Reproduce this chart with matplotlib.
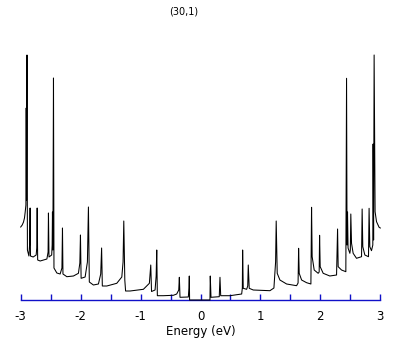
import matplotlib
matplotlib.use("Agg")
import matplotlib.pyplot as plt
from matplotlib.ticker import MultipleLocator

plt.rcParams['axes.unicode_minus'] = False
plt.rcParams['font.family'] = ['DejaVu Sans']

title = "(30,1)"
xlabel = "Energy (eV)"
xticks = [-3, -2, -1, 0, 1, 2, 3]
xtick_labels = ["-3", "-2", "-1", "0", "1", "2", "3"]

# density of states, negative-energy half
energy_neg = [-3.000, -2.975, -2.953, -2.937, -2.925, -2.913, -2.908, -2.903, -2.895, -2.888,
              -2.863, -2.852, -2.843, -2.837, -2.792, -2.742, -2.732, -2.725, -2.717, -2.675,
              -2.563, -2.543, -2.537, -2.528, -2.483, -2.475, -2.470, -2.463, -2.453, -2.445,
              -2.397, -2.342, -2.312, -2.303, -2.295, -2.230, -2.120, -2.037, -2.013, -2.003,
              -1.992, -1.925, -1.887, -1.870, -1.855, -1.787, -1.703, -1.665, -1.650, -1.638,
              -1.563, -1.397, -1.313, -1.292, -1.280, -1.263, -1.250, -1.175, -0.953, -0.853,
              -0.830, -0.817, -0.758, -0.740, -0.730, -0.720, -0.620, -0.453, -0.397, -0.363,
              -0.353, -0.342, -0.203, -0.192, -0.187, -0.182]
dos_neg = [0.73, 0.75, 0.78, 0.82, 0.88, 0.95, 1.92, 1.00, 2.45, 0.50,
           0.44, 0.55, 0.92, 0.44, 0.43, 0.45, 0.52, 0.92, 0.40, 0.39,
           0.41, 0.48, 0.87, 0.43, 0.45, 0.55, 0.88, 0.50, 2.22, 0.32,
           0.27, 0.26, 0.32, 0.72, 0.26, 0.233, 0.24, 0.267, 0.37, 0.65,
           0.217, 0.23, 0.38, 0.93, 0.18, 0.15, 0.16, 0.26, 0.52, 0.14,
           0.14, 0.167, 0.23, 0.38, 0.79, 0.20, 0.09, 0.09, 0.107, 0.167,
           0.35, 0.085, 0.10, 0.24, 0.50, 0.043, 0.043, 0.047, 0.06, 0.10,
           0.227, 0.027, 0.03, 0.12, 0.24, 0.0]

# density of states, positive-energy half
energy_pos = [0.158, 0.163, 0.175, 0.313, 0.325, 0.337, 0.492, 0.687, 0.698, 0.703,
              0.713, 0.770, 0.788, 0.797, 0.813, 0.880, 1.158, 1.225, 1.253, 1.263,
              1.280, 1.325, 1.437, 1.603, 1.628, 1.637, 1.647, 1.687, 1.770, 1.842,
              1.853, 1.863, 1.897, 1.963, 1.980, 1.987, 1.997, 2.047, 2.158, 2.270,
              2.287, 2.297, 2.353, 2.425, 2.437, 2.445, 2.453, 2.462, 2.492, 2.500,
              2.508, 2.520, 2.547, 2.603, 2.687, 2.697, 2.708, 2.742, 2.803, 2.813,
              2.825, 2.853, 2.875, 2.880, 2.888, 2.897, 2.913, 2.937, 2.980, 3.000]
dos_pos = [0.0, 0.24, 0.027, 0.033, 0.227, 0.043, 0.043, 0.06, 0.12, 0.50,
           0.117, 0.107, 0.14, 0.35, 0.117, 0.10, 0.093, 0.12, 0.38, 0.79,
           0.267, 0.20, 0.16, 0.143, 0.17, 0.517, 0.267, 0.20, 0.173, 0.16,
           0.927, 0.433, 0.30, 0.267, 0.28, 0.647, 0.333, 0.267, 0.24, 0.25,
           0.71, 0.333, 0.30, 0.283, 2.217, 0.55, 0.88, 0.52, 0.467, 0.50,
           0.86, 0.567, 0.467, 0.417, 0.433, 0.91, 0.533, 0.45, 0.433, 0.917,
           0.533, 0.493, 0.55, 1.56, 0.60, 2.45, 0.883, 0.783, 0.727, 0.72]

energy = energy_neg + energy_pos
dos = dos_neg + dos_pos

fig = plt.figure(figsize=(4.09, 3.45), dpi=100)
ax = fig.add_axes([20.7 / 409, 45 / 345, 359.6 / 409, 250 / 345])
ax.plot(energy, dos, color="black", lw=0.75, zorder=5, clip_on=False)

ax.set_xlim(-3, 3)
ax.set_ylim(0, 2.5)
axis_color = "#1010c8"
for s in ["left", "right", "top"]:
    ax.spines[s].set_visible(False)
ax.spines["bottom"].set_color(axis_color)
ax.spines["bottom"].set_linewidth(1.0)
ax.set_yticks([])
ax.set_xticks(xticks)
ax.set_xticklabels(xtick_labels)
ax.xaxis.set_minor_locator(MultipleLocator(0.5))
ax.tick_params(axis="x", which="both", direction="in", length=4, width=1.0,
               color=axis_color, labelsize=8.5, pad=7, labelcolor="black")
ax.set_xlabel(xlabel, fontsize=8.5, labelpad=2)
fig.text(183.5 / 409, 1 - 12 / 345, title, fontsize=7, ha="center", va="center")

fig.savefig("out.png", dpi=100)
